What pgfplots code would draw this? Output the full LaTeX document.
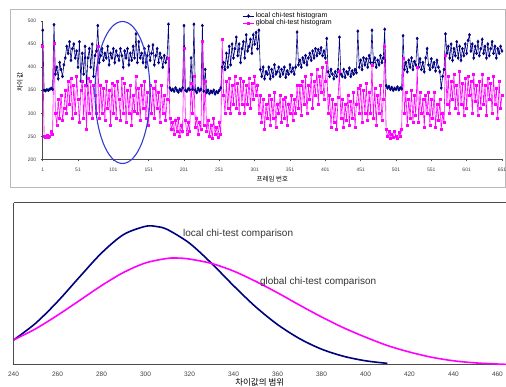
\documentclass[border=0pt]{standalone}
\usepackage{pgfplots}
\pgfplotsset{compat=1.18}
\usepackage{pgfplotstable}
\usepackage{fontspec}
\setmainfont{Liberation Sans}
\newfontfamily\kr{Noto Sans CJK KR}
\definecolor{navyc}{RGB}{0,0,128}
\definecolor{magc}{RGB}{255,0,255}
\definecolor{ellc}{RGB}{50,60,210}

\pgfplotstableread{
f L G
1 480 445
3 350 250
5 349 248
7 351 252
9 350 247
11 352 250
13 354 262
15 352 255
17 492 452
19 385 300
21 400 275
23 375 330
25 410 290
27 395 340
29 380 285
31 405 310
33 420 350
35 445 300
37 430 370
39 455 320
41 415 375
43 440 290
45 450 360
47 420 300
49 435 380
51 400 330
53 455 280
55 370 350
57 430 370
59 385 290
61 445 360
63 360 265
65 420 375
67 440 300
69 400 370
71 450 290
73 380 360
75 425 340
77 435 300
79 490 445
81 410 290
83 425 360
85 440 300
87 415 355
89 430 285
91 420 370
93 445 310
95 405 350
97 430 275
99 420 365
101 440 300
103 410 360
105 435 290
107 425 370
109 415 330
111 440 285
113 425 375
115 400 300
117 435 365
119 420 280
121 440 350
123 405 300
125 430 360
127 415 275
129 445 340
131 420 305
133 472 380
135 410 300
137 455 355
139 420 285
141 430 360
143 410 310
145 440 370
147 400 290
149 425 345
151 445 275
153 415 360
155 430 300
157 448 355
159 405 290
161 425 370
163 440 310
165 410 345
167 430 280
169 420 360
171 400 300
173 425 340
175 410 285
177 420 330
179 493 420
181 355 290
183 350 265
185 352 280
187 348 255
189 355 285
191 350 260
193 346 290
195 352 250
197 349 275
199 355 260
201 490 440
203 350 285
205 348 255
207 353 280
209 351 260
211 420 365
213 352 300
215 493 380
217 350 270
219 345 290
221 354 255
223 349 280
225 352 265
227 490 455
229 348 275
231 395 370
233 345 260
235 350 285
237 343 250
239 348 275
241 345 245
243 350 290
245 342 255
247 347 270
249 345 248
251 350 280
253 355 255
255 400 460
257 410 340
259 395 300
261 430 370
263 400 310
265 445 375
267 405 300
269 450 360
271 420 320
273 440 380
275 465 310
277 425 365
279 450 300
281 410 375
283 440 320
285 455 370
287 420 300
289 470 360
291 435 320
293 445 375
295 460 310
297 430 365
299 470 330
301 450 380
303 475 340
305 440 360
307 480 300
309 395 340
311 380 280
313 400 330
315 375 265
317 390 320
319 385 290
321 400 340
323 375 275
325 395 330
327 380 290
329 405 345
331 385 270
333 390 320
335 400 300
337 380 340
339 395 280
341 385 330
343 400 290
345 378 335
347 392 275
349 385 320
351 405 300
353 390 340
355 398 285
357 385 330
359 400 300
361 476 360
363 405 310
365 415 360
367 400 295
369 420 370
371 410 320
373 425 380
375 405 300
377 420 360
379 430 330
381 415 385
383 435 310
385 420 370
387 440 340
389 425 395
391 438 320
393 430 380
395 442 345
397 425 400
399 435 330
401 420 370
403 462 410
405 390 300
407 380 340
409 395 270
411 385 330
413 375 280
415 390 320
417 380 265
419 395 335
421 465 390
423 385 290
425 380 330
427 395 270
429 378 320
431 390 285
433 385 340
435 398 275
437 380 325
439 392 290
441 385 345
443 395 270
445 388 320
447 478 355
449 400 300
451 415 360
453 395 280
455 420 350
457 405 300
459 418 365
461 400 285
463 425 345
465 410 300
467 480 405
469 410 290
471 420 355
473 400 275
475 415 340
477 405 300
479 425 360
481 410 285
483 420 330
485 482 445
487 360 265
489 355 250
491 358 260
493 352 245
495 356 255
497 350 248
499 354 262
501 352 250
503 357 245
505 351 258
507 355 250
509 353 265
511 468 420
513 395 300
515 410 345
517 390 275
519 415 330
521 400 290
523 420 350
525 395 280
527 412 340
529 405 295
531 462 400
533 400 280
535 418 345
537 395 300
539 410 330
541 390 270
543 420 340
545 440 300
547 405 345
549 395 275
551 418 330
553 400 290
555 410 345
557 392 270
559 415 320
561 400 285
563 390 330
565 355 265
567 380 300
569 395 280
571 472 425
573 430 320
575 445 380
577 420 300
579 450 370
581 415 330
583 440 385
585 425 310
587 455 360
589 420 300
591 445 390
593 415 320
595 440 365
597 425 295
599 450 375
601 430 310
603 458 380
605 470 340
607 435 370
609 450 300
611 420 385
613 445 325
615 430 360
617 455 295
619 425 370
621 440 310
623 460 385
625 430 320
627 445 360
629 420 295
631 450 375
633 425 330
635 440 365
637 455 300
639 430 380
641 445 320
643 420 355
645 440 290
647 430 370
649 445 310
651 435 340
}\framedata

\pgfplotstableread{
x y
240 0.154
250 0.257
260 0.391
270 0.543
280 0.691
290 0.805
300 0.856
305 0.855
310 0.836
320 0.752
330 0.628
340 0.490
350 0.360
360 0.250
370 0.163
380 0.098
390 0.054
400 0.026
410 0.010
}\localcmp

\pgfplotstableread{
x y
240 0.154
250 0.223
260 0.307
270 0.398
280 0.490
290 0.571
300 0.630
310 0.658
315 0.660
320 0.654
330 0.627
340 0.580
350 0.517
360 0.446
370 0.370
380 0.297
390 0.230
400 0.172
410 0.120
420 0.080
430 0.048
440 0.026
450 0.013
460 0.006
464 0.004
}\globalcmp

\begin{document}
\begin{tikzpicture}
\useasboundingbox (0pt,0pt) rectangle (506pt,387pt);
\draw[gray!55, line width=1pt] (10pt,199pt) rectangle (505pt,377pt);
\begin{axis}[
  at={(42.7pt,227.5pt)}, anchor=south west,
  scale only axis, width=459.3pt, height=138.5pt,
  xmin=1, xmax=651, ymin=200, ymax=500,
  axis x line*=bottom, axis y line*=left,
  axis line style={-, gray!60!black, line width=0.8pt},
  xtick={1,51,...,651}, ytick={200,250,...,500},
  tick style={gray!60!black, line width=0.5pt}, major tick length=2pt,
  tick align=outside,
  ticklabel style={font=\fontsize{5}{6}\selectfont, text=black!75},
  /pgf/number format/assume math mode=true,
  xticklabel style={yshift=-3pt},
  yticklabel style={xshift=-1pt},
  xlabel={\kr 프레임 번호}, ylabel={\kr 차이 값},
  xlabel style={at={(axis description cs:0.5,0)}, anchor=center, yshift=-19.5pt, font=\fontsize{6.5}{7}\selectfont},
  ylabel style={at={(axis description cs:0,0.5)}, anchor=center, xshift=8pt, yshift=22.7pt, font=\fontsize{6.5}{7}\selectfont},
  legend style={at={(axis description cs:0.434,1.068)}, anchor=north west, draw=none, fill=none,
    font=\fontsize{7}{8}\selectfont, inner sep=0pt, row sep=-1.5pt, nodes={inner sep=1pt}},
  legend cell align=left,
  legend image code/.code={\draw[mark repeat=2,mark phase=2,#1] plot coordinates {(0cm,0cm) (0.21cm,0cm) (0.42cm,0cm)};},
]
\addplot[navyc, line width=0.6pt, mark=diamond*, mark size=1.4pt, mark options={solid}] table[x=f, y=L] {\framedata};
\addlegendentry{local chi-test histogram}
\addplot[magc, line width=0.6pt, mark=square*, mark size=1.0pt, mark options={solid}] table[x=f, y=G] {\framedata};
\addlegendentry{global chi-test histogram}
\end{axis}
\draw[ellc, line width=1.1pt] (122.5pt,294.5pt) ellipse [x radius=27.5pt, y radius=71pt];

\begin{axis}[
  at={(13.5pt,22pt)}, anchor=south west,
  scale only axis, width=492.5pt, height=162pt,
  xmin=240, xmax=463.9, ymin=0, ymax=1,
  axis x line*=box, axis y line*=left,
  axis line style={-, gray!60!black, line width=1pt},
  ytick=\empty, xtick={240,260,...,460},
  tick style={draw=none},
  ticklabel style={font=\fontsize{6.5}{7}\selectfont, text=black!75},
  /pgf/number format/assume math mode=true,
  xticklabel style={yshift=-3pt},
  xlabel={\kr 차이값의 범위},
  xlabel style={at={(axis description cs:0.5,0)}, anchor=center, yshift=-17pt, font=\fontsize{8.5}{9}\selectfont},
]
\addplot[navyc, line width=1.6pt, smooth] table {\localcmp};
\addplot[magc, line width=1.6pt, smooth] table {\globalcmp};
\node[anchor=west, inner sep=0pt, font=\fontsize{10}{12}\selectfont, text=black!80] at (axis cs:317,0.809) {local chi-test comparison};
\node[anchor=west, inner sep=0pt, font=\fontsize{10}{12}\selectfont, text=black!80] at (axis cs:352,0.512) {global chi-test comparison};
\end{axis}
\end{tikzpicture}
\end{document}
